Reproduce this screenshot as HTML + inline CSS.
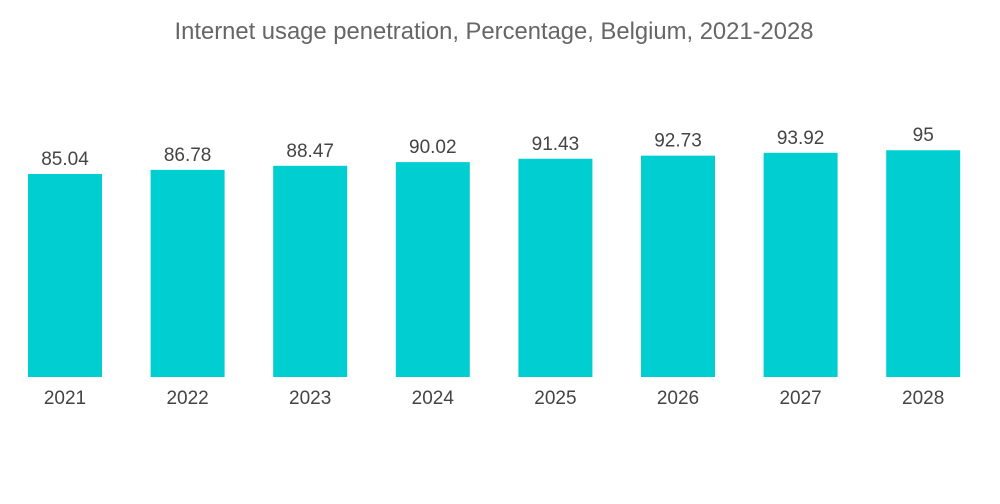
<!DOCTYPE html>
<html><head><meta charset="utf-8"><style>
body{margin:0;background:#fff;}
svg{display:block;font-family:"Liberation Sans",sans-serif;}
</style></head><body>
<svg id="chart" width="1000" height="504" viewBox="0 0 1000 504">
<text x="494" y="39" text-anchor="middle" font-size="23.8" fill="#666">Internet usage penetration, Percentage, Belgium, 2021-2028</text>
<g id="bars"></g>
</svg>
<script>
const categories=["2021","2022","2023","2024","2025","2026","2027","2028"];
const values=[85.04,86.78,88.47,90.02,91.43,92.73,93.92,95];
const valueLabels=["85.04","86.78","88.47","90.02","91.43","92.73","93.92","95"];
const ns="http://www.w3.org/2000/svg";
const g=document.getElementById("bars");
const base=377, scale=2.387, x0=65, step=122.6, bw=74;
const xPos=i=>x0+i*step;
const yPos=v=>base-v*scale;
categories.forEach((c,i)=>{
  const r=document.createElementNS(ns,"rect");
  
  
  r.setAttribute("x",xPos(i)-bw/2);r.setAttribute("y",yPos(values[i]));
  r.setAttribute("width",bw);r.setAttribute("height",base-yPos(values[i]));
  r.setAttribute("fill","#00CED1");g.appendChild(r);
  const t=document.createElementNS(ns,"text");
  
  
  t.setAttribute("x",xPos(i));t.setAttribute("y",yPos(values[i])-9);
  t.setAttribute("text-anchor","middle");t.setAttribute("font-size","19");t.setAttribute("fill","#444");
  t.textContent=valueLabels[i];g.appendChild(t);
  const l=document.createElementNS(ns,"text");
  
  
  l.setAttribute("x",xPos(i));l.setAttribute("y",404);
  l.setAttribute("text-anchor","middle");l.setAttribute("font-size","19");l.setAttribute("fill","#444");
  l.textContent=c;g.appendChild(l);
});
</script>
</body></html>
